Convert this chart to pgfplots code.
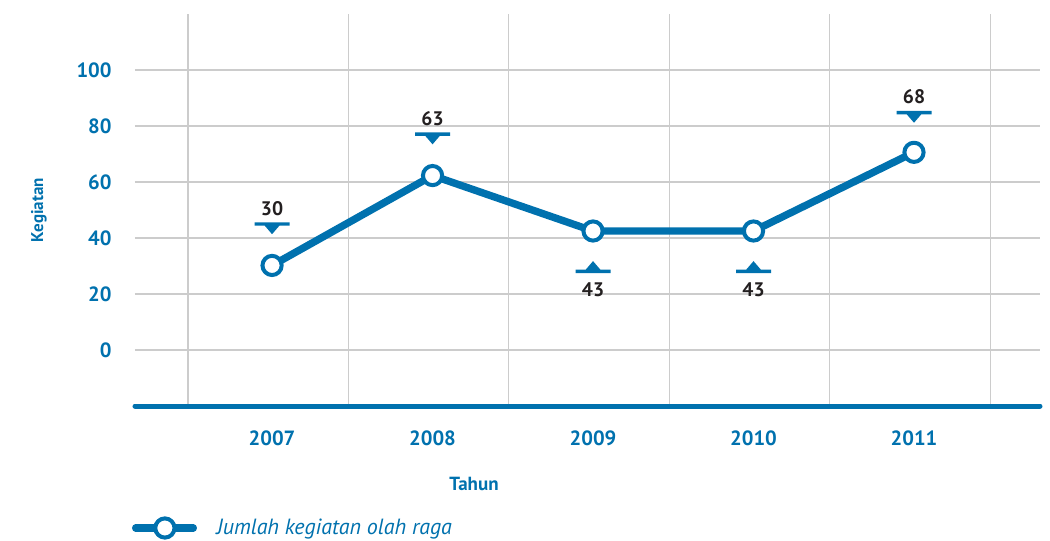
\documentclass[border=0pt]{standalone}
\usepackage{pgfplots}
\pgfplotsset{compat=1.18}
\usepackage{fontspec}
\setmainfont{PT Sans}
\definecolor{kblue}{RGB}{0,113,174}
\definecolor{kdark}{RGB}{35,31,32}
\definecolor{kgrid}{RGB}{204,204,204}
\pgfdeclareplotmark{ptrdown}{%
  \pgfpathrectangle{\pgfpoint{-8.75pt}{-0.85pt}}{\pgfpoint{17.5pt}{1.7pt}}%
  \pgfpathmoveto{\pgfpoint{-3.7pt}{-0.8pt}}%
  \pgfpathlineto{\pgfpoint{3.7pt}{-0.8pt}}%
  \pgfpathlineto{\pgfpoint{0pt}{-5.1pt}}%
  \pgfpathclose
  \pgfusepathqfill}
\pgfdeclareplotmark{ptrup}{%
  \pgfpathrectangle{\pgfpoint{-8.75pt}{-0.85pt}}{\pgfpoint{17.5pt}{1.7pt}}%
  \pgfpathmoveto{\pgfpoint{-3.7pt}{0.8pt}}%
  \pgfpathlineto{\pgfpoint{3.7pt}{0.8pt}}%
  \pgfpathlineto{\pgfpoint{0pt}{5.1pt}}%
  \pgfpathclose
  \pgfusepathqfill}
\pgfplotstableread{
x y
2007 30.2
2008 62.3
2009 42.5
2010 42.5
2011 70.6
}\datatable
\pgfplotstableread{
x y lab
2007 45.0 30
2008 77.1 63
2011 84.8 68
}\downtable
\pgfplotstableread{
x y lab
2009 28.1 43
2010 28.1 43
}\uptable
\begin{document}
\begin{tikzpicture}
\begin{axis}[
  at={(0,0)}, anchor=south west,
  scale only axis,
  width=452.5pt, height=196pt,
  xmin=2006.146, xmax=2011.785,
  ymin=-20, ymax=120,
  axis line style={draw=none},
  xtick={2007,2008,2009,2010,2011},
  xticklabels={2007,2008,2009,2010,2011},
  minor xtick={2006.475,2007.475,2008.475,2009.475,2010.475,2011.475},
  xmajorgrids=false, xminorgrids=true,
  ytick={0,20,40,60,80,100},
  yticklabels={0,20,40,60,80,100},
  ymajorgrids=true,
  major tick length=0pt, minor tick length=0pt,
  grid style={draw=kgrid, line width=0.7pt},
  minor grid style={draw=kgrid, line width=0.7pt},
  tick label style={font=\fontsize{10.3}{12}\selectfont\bfseries, text=kblue},
  xticklabel style={anchor=center, inner sep=0pt, yshift=-16pt},
  yticklabel style={anchor=east, inner sep=0pt, xshift=-11.5pt},
  xlabel={Tahun},
  xlabel style={at={([yshift=-39pt]axis description cs:0.3746,0)}, anchor=center, font=\fontsize{9.5}{11}\selectfont\bfseries, text=kblue},
  ylabel={Kegiatan},
  ylabel style={at={([xshift=-48pt]axis description cs:0,0.5)}, anchor=center, font=\fontsize{8.5}{10}\selectfont\bfseries, text=kblue},
  clip=false,
  legend style={at={([xshift=-1.7pt,yshift=-61pt]axis description cs:0,0)}, anchor=west, draw=none, fill=none, inner sep=0pt,
    font=\fontsize{11}{13}\selectfont\itshape, text=kblue,
    nodes={inner sep=0pt},
    /tikz/every even column/.style={column sep=0pt}},
  legend cell align=left,
  legend image code/.code={
    \draw[kblue, line width=3.7pt, line cap=round] (0pt,0pt) -- (28.8pt,0pt);
    \draw[kblue, line width=2pt, fill=white] (14.6pt,0pt) circle (4.8pt);
    \path[draw=none, fill=none] (0pt,0pt) -- (40.5pt,0pt);
  },
]
\draw[kblue, line width=2.5pt, line cap=round] (rel axis cs:0,0) -- (rel axis cs:1,0);
\addplot[kblue, line width=3.7pt, line join=round, mark=*, mark size=4.8pt,
  mark options={draw=kblue, fill=white, line width=2pt}] table[x=x,y=y] {\datatable};
\addlegendentry{Jumlah kegiatan olah raga}
\addplot[only marks, mark=ptrdown, kblue, forget plot,
  point meta=explicit symbolic,
  nodes near coords,
  every node near coord/.style={anchor=base, inner sep=0pt, yshift=4.5pt, text=kdark, font=\fontsize{9.8}{12}\selectfont\bfseries}]
  table[x=x,y=y,meta=lab] {\downtable};
\addplot[only marks, mark=ptrup, kblue, forget plot,
  point meta=explicit symbolic,
  nodes near coords,
  every node near coord/.style={anchor=base, inner sep=0pt, yshift=-12.8pt, text=kdark, font=\fontsize{9.8}{12}\selectfont\bfseries}]
  table[x=x,y=y,meta=lab] {\uptable};
\end{axis}
\pgfresetboundingbox
\useasboundingbox (-67.5pt,-67.5pt) rectangle (457.5pt,203pt);
\end{tikzpicture}
\end{document}
